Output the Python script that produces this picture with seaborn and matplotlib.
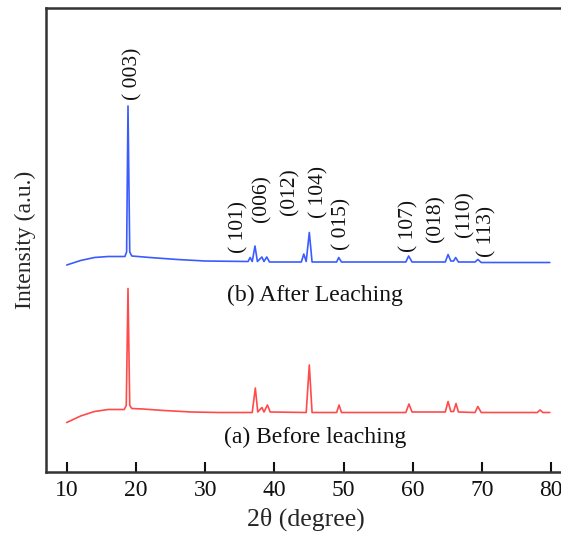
import numpy as np
import pandas as pd
import seaborn as sns
import matplotlib
matplotlib.use("Agg")
import matplotlib.pyplot as plt

# 2theta / intensity points (arbitrary units)
two_theta_a = [10.0, 12.0, 14.0, 16.0, 18.3, 18.6, 18.85, 19.1, 19.4, 21.0, 24.0, 28.0, 32.0,
               36.8, 37.25, 37.6, 38.2, 38.5, 39.0, 39.4, 44.6, 45.05, 45.45, 49.0, 49.35, 49.7,
               59.0, 59.45, 59.9, 64.7, 65.1, 65.5, 65.9, 66.25, 66.6, 69.0, 69.4, 69.9,
               78.0, 78.4, 78.8, 79.8]
intensity_a = [49, 55.5, 60, 62, 62, 66, 183, 66, 63, 62.5, 61, 59.5, 59,
               59, 83.5, 59.5, 64, 59.5, 66.5, 59.5, 59, 106.5, 59, 59, 66.5, 59,
               59, 67.5, 59.5, 59.5, 70, 60, 60, 68, 59.5, 59, 65, 59,
               59, 61.5, 59, 59]

two_theta_b = [10.0, 12.0, 14.0, 16.0, 18.4, 18.65, 18.85, 19.1, 19.4, 22.0, 26.0, 30.0,
               36.2, 36.5, 36.8, 37.2, 37.55, 38.2, 38.5, 38.9, 39.3, 43.9, 44.25, 44.6,
               45.05, 45.45, 49.0, 49.3, 49.7, 59.0, 59.4, 59.9, 64.7, 65.1, 65.5, 65.9,
               66.2, 66.6, 69.0, 69.4, 69.9, 79.8]
intensity_b = [206.5, 211, 214, 215, 215, 219.5, 365.5, 219.5, 215.5, 214, 212, 210.5,
               210, 214, 210, 225.5, 210, 214.5, 210, 214.5, 209.5, 209.5, 217.5, 210,
               239, 209.5, 209.5, 214, 209.5, 209.5, 215.5, 209.5, 209.5, 217, 210.5, 210.5,
               214, 209.5, 209.5, 212, 209, 209]

peak_labels = ["( 003)", "( 101)", "(006)", "(012)", "( 104)", "( 015)",
               "( 107)", "(018)", "(110)", "( 113)"]
peak_x = [19.6, 34.8, 38.2, 42.2, 46.4, 49.7, 59.4, 63.4, 67.5, 70.7]
peak_y = [371.5, 218.5, 249.5, 256.5, 253.5, 221.5, 219.5, 229.5, 234.5, 214.5]

df = pd.concat([
    pd.DataFrame({"2theta": two_theta_a, "I": intensity_a, "sample": "a"}),
    pd.DataFrame({"2theta": two_theta_b, "I": intensity_b, "sample": "b"}),
])

sns.set_style("ticks")
plt.rcParams["font.family"] = ["Liberation Serif", "DejaVu Serif"]

fig = plt.figure(figsize=(5.61, 5.33), dpi=100)
ax = fig.add_axes([46 / 561, 61.5 / 533, 519 / 561, 464 / 533])

sns.lineplot(data=df, x="2theta", y="I", hue="sample", palette={"a": "#ff4a4a", "b": "#3a5cff"},
             estimator=None, sort=False, linewidth=1.2, legend=False, ax=ax)

for lab, x, y in zip(peak_labels, peak_x, peak_y):
    ax.text(x, y, lab, rotation=90, ha="center", va="bottom", fontsize=15.5, color="#111111")

ax.text(45.9, 176.5, "(b) After Leaching", ha="center", va="center", fontsize=17, color="#111111")
ax.text(45.95, 34.5, "(a) Before leaching", ha="center", va="center", fontsize=17, color="#111111")

ax.set_xlim(7.0, 82.0)
ax.set_ylim(0, 464)
ax.set_xticks(range(10, 81, 10))
ax.set_yticks([])
ax.tick_params(axis="x", direction="in", length=7, width=1.5, labelsize=17, pad=6, colors="#111111")
for s in ax.spines.values():
    s.set_linewidth(1.8)
    s.set_color("#333333")
ax.set_xlabel("2θ (degree)", fontsize=18.5, labelpad=5)
ax.set_ylabel("Intensity (a.u.)", fontsize=17, labelpad=7)

fig.savefig("out.png", dpi=100)
